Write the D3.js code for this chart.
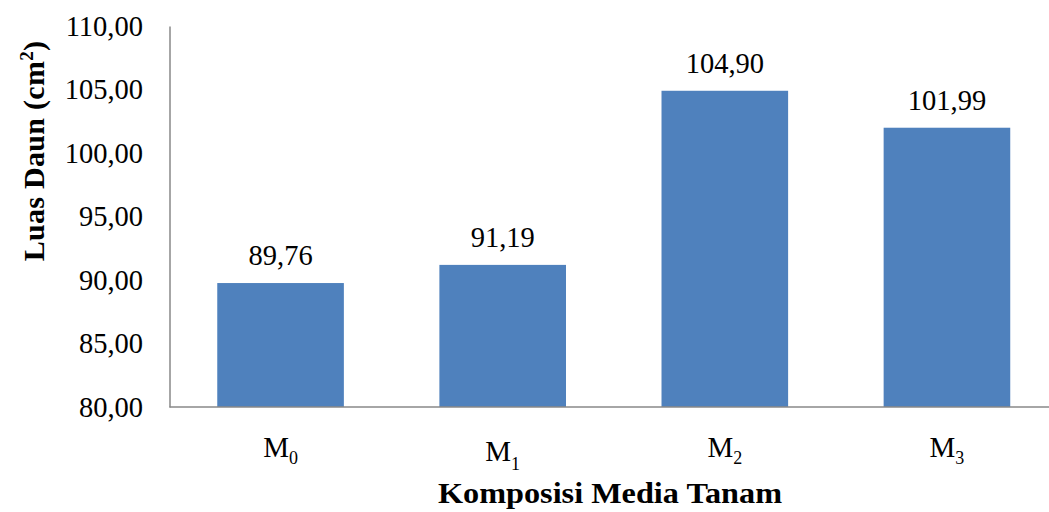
<!DOCTYPE html>
<html><head><meta charset="utf-8">
<script src="https://cdn.jsdelivr.net/npm/d3@7"></script>
<style>body{margin:0;background:#fff}svg{display:block}</style>
</head><body>
<svg id="c" width="1049" height="512"></svg>
<script>
const categories = ["M","M","M","M"];
const subscripts = ["0","1","2","3"];
const values = [89.76, 91.19, 104.90, 101.99];
const valueLabels = ["89,76","91,19","104,90","101,99"];
const yTicks = [80,85,90,95,100,105,110];
const yTickLabels = ["80,00","85,00","90,00","95,00","100,00","105,00","110,00"];
const yTitle = "Luas Daun (cm";
const xTitle = "Komposisi Media Tanam";

(function(){
const FF = "'Liberation Serif', 'Times New Roman', Tinos, serif";
const svg = d3.select("#c");
const pL = 169.5, pR = 1058, pT = 26, pB = 407;
const x = d3.scaleBand().domain(d3.range(values.length)).range([pL, pR]).paddingInner(0.43).paddingOuter(0.215);
const y = d3.scaleLinear().domain([80,110]).range([pB, pT]);

svg.selectAll("rect.bar").data(values).enter().append("rect")
  .attr("x",(d,i)=>x(i)).attr("width",x.bandwidth())
  .attr("y",d=>y(d)).attr("height",d=>y(80)-y(d)).attr("fill","#4F81BD");

const yAxis = d3.axisLeft(y).tickValues(yTicks).tickSize(0).tickPadding(26.5)
  .tickFormat((d,i)=>yTickLabels[i]);
const gy = svg.append("g").attr("transform",`translate(${pL},0)`).call(yAxis)
  .attr("font-family", FF).attr("font-size", 28.5);
gy.select(".domain").attr("stroke","#888").attr("stroke-width",1.5);
gy.selectAll("text").attr("fill","#000").attr("dy","0.33em");

svg.append("line").attr("x1",pL).attr("x2",1049).attr("y1",pB).attr("y2",pB)
  .attr("stroke","#888").attr("stroke-width",1.5);

svg.selectAll("text.val").data(values).enter().append("text")
  .attr("x",(d,i)=>x(i)+x.bandwidth()/2).attr("y",d=>y(d)-18)
  .attr("text-anchor","middle").attr("font-family",FF).attr("font-size",28.5).text((d,i)=>valueLabels[i]);

const cl = svg.selectAll("text.cat").data(categories).enter().append("text")
  .attr("x",(d,i)=>x(i)+x.bandwidth()/2).attr("y",(d,i)=>i===1?461:457)
  .attr("text-anchor","middle").attr("font-family",FF).attr("font-size",29);
cl.append("tspan").text(d=>d);
cl.append("tspan").attr("dy",(d,i)=>i===1?9:7).attr("font-size",18).text((d,i)=>subscripts[i]);

svg.append("text").attr("x",610).attr("y",503).attr("text-anchor","middle")
  .attr("font-family",FF).attr("font-size",30).attr("font-weight","bold")
  .attr("textLength",344).attr("lengthAdjust","spacingAndGlyphs").text(xTitle);

const yt = svg.append("text").attr("transform","translate(44,151) rotate(-90)")
  .attr("text-anchor","middle").attr("font-family",FF).attr("font-size",30).attr("font-weight","bold")
  .attr("letter-spacing",0.3);
yt.append("tspan").text(yTitle);
yt.append("tspan").attr("dy",-11).attr("font-size",19).text("2");
yt.append("tspan").attr("dy",11).text(")");
})();
</script>
</body></html>
